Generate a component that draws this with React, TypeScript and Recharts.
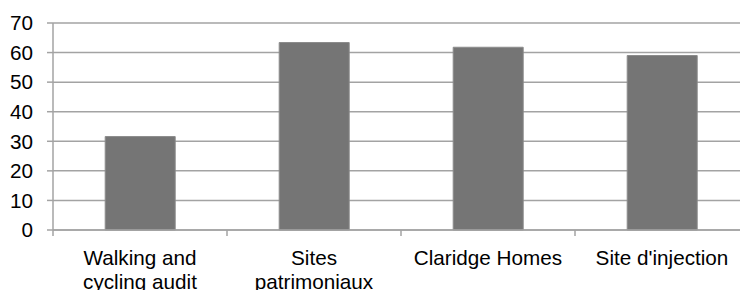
import React from "react";
import { BarChart, Bar, XAxis, YAxis, CartesianGrid } from "recharts";

const categories = [
  "Walking and cycling audit",
  "Sites patrimoniaux",
  "Claridge Homes",
  "Site d'injection",
];
const categoryLines = [
  ["Walking and", "cycling audit"],
  ["Sites", "patrimoniaux"],
  ["Claridge Homes"],
  ["Site d'injection"],
];
const values = [31.6, 63.4, 61.8, 59.0];
const yTicks = [0, 10, 20, 30, 40, 50, 60, 70];

const data = categories.map((c, i) => ({ name: c, value: values[i], idx: i }));

const CHART_W = 749;
const CHART_H = 290;
const Y_AXIS_W = 53;
const X_AXIS_H = 30;
const MARGIN = { top: 23, right: 0, left: 0, bottom: 30 };
const PLOT_W = CHART_W - Y_AXIS_W - MARGIN.left - MARGIN.right;
const HALF_BAND = PLOT_W / categories.length / 2;
const FONT = "'Liberation Sans', Arial, sans-serif";
const FS = 20.7;
const GRID = "#a3a3a3";

const XTick = (props: any) => {
  const { x, y, payload, index } = props;
  const lines = categoryLines[index] ?? [String(payload.value)];
  const axisY = y - 5;
  return (
    <g>
      <line x1={x - HALF_BAND} x2={x - HALF_BAND} y1={axisY} y2={axisY + 6} stroke={GRID} strokeWidth={1.5} />
      <text x={x} y={axisY + 35} textAnchor="middle" fontFamily={FONT} fontSize={FS} fill="#000">
        {lines.map((l, i) => (
          <tspan key={i} x={x} dy={i === 0 ? 0 : 24}>
            {l}
          </tspan>
        ))}
      </text>
    </g>
  );
};

export default function App() {
  return (
    <div style={{ position: "absolute", left: 0, top: 0, width: 740, height: 290, overflow: "hidden", background: "#fff" }}>
      <BarChart width={CHART_W} height={CHART_H} data={data} margin={MARGIN} barCategoryGap="30%">
        <CartesianGrid vertical={false} stroke={GRID} strokeWidth={1.5} />
        <XAxis
          dataKey="name"
          height={X_AXIS_H}
          interval={0}
          tickLine={false}
          tickSize={5}
          tickMargin={0}
          axisLine={{ stroke: GRID, strokeWidth: 1.5 }}
          tick={<XTick />}
        />
        <YAxis
          width={Y_AXIS_W}
          domain={[0, 70]}
          ticks={yTicks}
          interval={0}
          tickSize={6}
          tickMargin={14}
          axisLine={{ stroke: GRID, strokeWidth: 1.5 }}
          tickLine={{ stroke: GRID, strokeWidth: 1.5 }}
          tick={{ fill: "#000", fontSize: FS, fontFamily: FONT }}
        />
        <Bar dataKey="value" fill="#757575" stroke="#8c8c8c" strokeWidth={1} isAnimationActive={false} />
      </BarChart>
    </div>
  );
}
